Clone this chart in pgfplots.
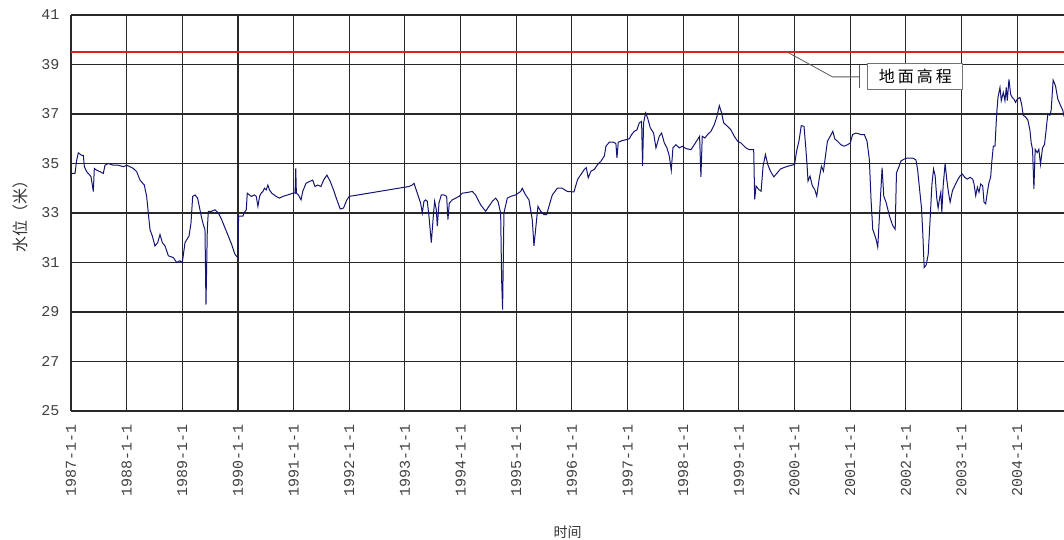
\documentclass[border=0pt]{standalone}
\usepackage{pgfplots}
\pgfplotsset{compat=1.18}
\usepackage{fontspec}
\setmainfont{Liberation Sans}
\setmonofont{Liberation Mono}
\newfontfamily\cjk{Noto Sans CJK SC}
\definecolor{navyline}{RGB}{20,20,115}
\definecolor{redline}{RGB}{225,30,30}
\definecolor{gridc}{RGB}{40,40,40}
\begin{document}
\begin{tikzpicture}
\begin{axis}[
  name=ax,
  scale only axis,
  width=993pt, height=396pt,
  xmin=1987, xmax=2004.84,
  ymin=25, ymax=41,
  axis lines*=left,
  axis line style={gridc, line width=1.1pt},
  xtick={1987,...,2004},
  xticklabels={1987-1-1,1988-1-1,1989-1-1,1990-1-1,1991-1-1,1992-1-1,1993-1-1,1994-1-1,1995-1-1,1996-1-1,1997-1-1,1998-1-1,1999-1-1,2000-1-1,2001-1-1,2002-1-1,2003-1-1,2004-1-1},
  ytick={25,27,...,41},
  yticklabels={25,27,29,31,33,35,37,39,41},
  major tick length=0pt,
  grid=major,
  major grid style={gridc, line width=1.1pt},
  xticklabel style={rotate=90, anchor=east, font=\ttfamily\fontsize{15}{15}\selectfont, text=black!75},
  yticklabel style={font=\ttfamily\fontsize{15}{15}\selectfont, text=black!75},
  xticklabel shift=10pt,
  yticklabel shift=8pt,
  clip=true,
]
\addplot[redline, line width=2.2pt] coordinates {(1987,39.5) (2004.84,39.5)};
\addplot[navyline, line width=1pt] table {
x y
1987.000 34.60
1987.072 34.60
1987.102 35.13
1987.132 35.43
1987.192 35.33
1987.222 35.33
1987.240 34.87
1987.281 34.67
1987.311 34.60
1987.359 34.47
1987.401 33.87
1987.419 34.80
1987.461 34.73
1987.521 34.67
1987.581 34.60
1987.611 34.93
1987.671 35.00
1987.760 34.93
1987.850 34.93
1987.940 34.87
1988.000 34.93
1988.060 34.87
1988.120 34.80
1988.180 34.67
1988.240 34.33
1988.317 34.13
1988.359 33.67
1988.389 33.00
1988.419 32.33
1988.461 32.07
1988.509 31.67
1988.557 31.80
1988.599 32.13
1988.641 31.80
1988.689 31.67
1988.749 31.27
1988.838 31.20
1988.898 31.00
1988.958 31.07
1989.000 31.00
1989.048 31.80
1989.120 32.07
1989.156 32.60
1989.186 33.67
1989.228 33.73
1989.275 33.60
1989.317 33.13
1989.347 32.80
1989.377 32.53
1989.407 32.33
1989.425 29.30
1989.449 32.33
1989.467 33.07
1989.527 33.07
1989.587 33.13
1989.647 33.00
1989.707 32.73
1989.766 32.40
1989.826 32.07
1989.886 31.73
1989.946 31.33
1989.994 31.20
1990.003 32.20
1990.012 32.87
1990.089 32.87
1990.107 33.00
1990.149 33.13
1990.167 33.80
1990.239 33.67
1990.298 33.73
1990.328 33.67
1990.358 33.27
1990.388 33.67
1990.417 33.80
1990.447 33.87
1990.477 34.00
1990.507 33.93
1990.537 34.13
1990.566 33.93
1990.608 33.80
1990.686 33.67
1990.745 33.60
1990.805 33.67
1990.894 33.73
1990.984 33.80
1991.026 33.80
1991.038 34.80
1991.049 33.80
1991.085 33.73
1991.133 33.53
1991.163 33.87
1991.222 34.20
1991.282 34.27
1991.342 34.33
1991.383 34.07
1991.431 34.13
1991.491 34.07
1991.538 34.33
1991.598 34.53
1991.658 34.27
1991.717 33.93
1991.777 33.53
1991.837 33.16
1991.896 33.20
1991.956 33.53
1991.998 33.67
1993.071 34.07
1993.131 34.13
1993.162 34.20
1993.222 33.80
1993.281 33.40
1993.311 33.00
1993.341 33.47
1993.371 33.53
1993.401 33.47
1993.431 32.87
1993.473 31.80
1993.509 32.87
1993.533 33.47
1993.563 33.13
1993.581 32.47
1993.611 33.40
1993.653 33.73
1993.701 33.73
1993.749 33.67
1993.772 32.73
1993.796 33.40
1993.850 33.53
1993.910 33.60
1993.970 33.67
1994.030 33.80
1994.120 33.83
1994.210 33.87
1994.269 33.73
1994.359 33.33
1994.449 33.07
1994.509 33.27
1994.569 33.47
1994.629 33.60
1994.671 33.47
1994.719 33.00
1994.737 30.27
1994.754 29.10
1994.778 33.00
1994.838 33.60
1994.898 33.67
1994.988 33.73
1995.078 33.87
1995.108 34.00
1995.168 33.73
1995.228 33.53
1995.287 32.73
1995.317 31.67
1995.347 32.33
1995.389 33.27
1995.437 33.07
1995.497 32.93
1995.545 32.93
1995.587 33.27
1995.647 33.73
1995.737 34.00
1995.826 34.00
1995.916 33.87
1996.036 33.85
1996.102 34.36
1996.162 34.56
1996.222 34.76
1996.257 34.83
1996.293 34.42
1996.341 34.69
1996.401 34.76
1996.461 34.96
1996.521 35.09
1996.581 35.30
1996.611 35.70
1996.671 35.86
1996.749 35.86
1996.790 35.80
1996.808 35.23
1996.832 35.86
1996.910 35.93
1996.988 35.97
1997.030 36.00
1997.072 36.17
1997.120 36.30
1997.168 36.36
1997.210 36.64
1997.251 36.70
1997.269 34.90
1997.287 36.64
1997.323 37.04
1997.359 36.84
1997.407 36.44
1997.467 36.23
1997.509 35.63
1997.569 36.10
1997.611 36.23
1997.659 35.83
1997.707 35.63
1997.749 35.30
1997.784 34.72
1997.814 35.63
1997.868 35.76
1997.928 35.63
1997.988 35.70
1998.048 35.60
1998.138 35.56
1998.198 35.76
1998.257 35.97
1998.293 36.10
1998.317 34.46
1998.341 36.10
1998.389 36.03
1998.437 36.17
1998.497 36.30
1998.557 36.57
1998.605 36.90
1998.647 37.34
1998.689 37.04
1998.725 36.64
1998.796 36.50
1998.856 36.36
1998.916 36.10
1998.976 35.90
1999.036 35.83
1999.126 35.63
1999.186 35.56
1999.265 35.56
1999.283 33.55
1999.307 34.09
1999.355 33.95
1999.398 33.88
1999.434 34.90
1999.476 35.36
1999.518 34.96
1999.566 34.69
1999.627 34.46
1999.687 34.62
1999.747 34.78
1999.837 34.86
1999.928 34.92
2000.000 34.96
2000.036 35.50
2000.078 35.90
2000.120 36.53
2000.169 36.50
2000.199 35.70
2000.229 34.76
2000.241 34.29
2000.277 34.49
2000.319 34.09
2000.361 33.95
2000.398 33.68
2000.440 34.36
2000.482 34.89
2000.518 34.69
2000.542 35.09
2000.590 35.90
2000.639 36.10
2000.687 36.30
2000.723 35.99
2000.771 35.90
2000.831 35.76
2000.892 35.70
2000.952 35.76
2001.000 35.83
2001.042 36.17
2001.102 36.23
2001.193 36.17
2001.253 36.17
2001.301 35.90
2001.343 35.16
2001.373 33.55
2001.404 32.34
2001.464 31.94
2001.494 31.62
2001.524 32.87
2001.554 34.09
2001.572 34.83
2001.602 33.68
2001.645 33.42
2001.705 32.87
2001.765 32.48
2001.807 32.34
2001.830 34.62
2001.880 34.90
2001.910 35.10
2001.970 35.18
2002.030 35.22
2002.119 35.22
2002.179 35.15
2002.209 34.77
2002.239 34.10
2002.281 33.18
2002.304 32.12
2002.328 30.80
2002.364 30.90
2002.400 31.32
2002.436 32.80
2002.466 34.13
2002.496 34.78
2002.525 34.50
2002.555 33.57
2002.579 33.20
2002.603 33.57
2002.627 33.84
2002.645 33.04
2002.669 34.10
2002.704 35.00
2002.734 34.35
2002.764 33.83
2002.794 33.44
2002.836 33.90
2002.878 34.10
2002.937 34.37
2002.973 34.50
2003.015 34.57
2003.057 34.44
2003.104 34.37
2003.152 34.44
2003.200 34.37
2003.224 34.17
2003.254 33.70
2003.284 34.04
2003.313 33.84
2003.343 34.17
2003.379 34.10
2003.403 33.44
2003.433 33.37
2003.463 33.84
2003.493 34.24
2003.522 34.44
2003.540 35.00
2003.570 35.70
2003.600 35.70
2003.630 37.00
2003.654 37.67
2003.690 38.07
2003.713 37.54
2003.749 37.87
2003.779 37.54
2003.803 38.07
2003.821 37.54
2003.851 38.40
2003.881 37.80
2003.910 37.67
2003.940 37.60
2003.970 37.47
2004.000 37.60
2004.048 37.67
2004.078 37.40
2004.107 36.95
2004.149 36.88
2004.191 36.75
2004.227 36.36
2004.251 35.83
2004.275 35.57
2004.299 33.98
2004.322 35.57
2004.358 35.44
2004.388 35.57
2004.418 34.97
2004.454 35.63
2004.490 35.77
2004.525 36.48
2004.549 37.01
2004.585 36.95
2004.609 37.15
2004.645 38.37
2004.687 38.14
2004.728 37.61
2004.776 37.35
2004.818 37.15
2004.840 36.90
};
\draw[black!65, line width=0.8pt] (axis cs:1999.87,39.5) -- (axis cs:2000.68,38.5) -- (axis cs:2001.17,38.5);
\draw[black!65, line width=0.8pt] (axis cs:2001.17,38.98) -- (axis cs:2001.17,38.05);
\node[draw=black!55, line width=0.8pt, fill=white, minimum width=95pt, minimum height=26pt, inner sep=0pt, font=\cjk\fontsize{16}{16}\selectfont] at (axis cs:2002.17,38.52) {地\hspace{3pt}面\hspace{3pt}高\hspace{3pt}程};
\end{axis}
\node[rotate=90, font=\cjk\fontsize{16}{16}\selectfont, text=black!80] at ([xshift=-51pt]ax.west) {水位（米）};
\node[font=\cjk\fontsize{14}{14}\selectfont, text=black!80] at ([yshift=-121pt]ax.south) {时间};
\pgfresetboundingbox
\path[use as bounding box] ([xshift=-71pt,yshift=-129pt]ax.south west) rectangle ([yshift=15pt]ax.north east);
\end{tikzpicture}
\end{document}
